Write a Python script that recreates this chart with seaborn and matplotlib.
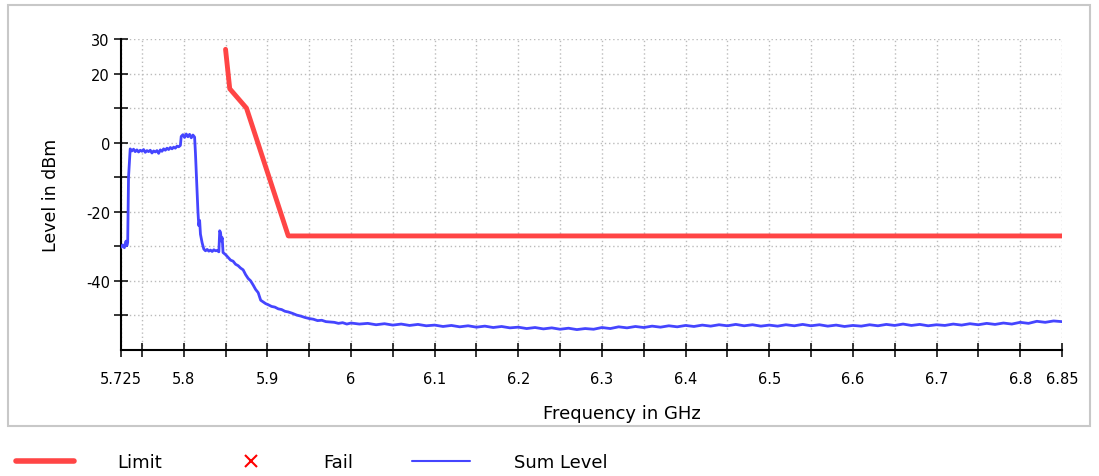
import numpy as np
import pandas as pd
import seaborn as sns
import matplotlib.pyplot as plt
from matplotlib.lines import Line2D
from matplotlib.patches import Rectangle

# ----------------------------
# Data
# ----------------------------
limit_freq = [5.85, 5.855, 5.875, 5.925, 6.85]
limit_level = [27.0, 15.6, 10.0, -27.0, -27.0]

sum_freq = [
    5.725, 5.727, 5.729, 5.731, 5.732, 5.733, 5.734, 5.736, 5.738, 5.740,
    5.742, 5.744, 5.746, 5.748, 5.750, 5.752, 5.754, 5.756, 5.758, 5.760,
    5.762, 5.764, 5.766, 5.768, 5.770, 5.772, 5.774, 5.776, 5.778, 5.780,
    5.782, 5.784, 5.786, 5.788, 5.790, 5.792, 5.794, 5.796, 5.797, 5.799,
    5.801, 5.803, 5.805, 5.807, 5.809, 5.811, 5.813, 5.814, 5.816, 5.817,
    5.818, 5.819, 5.820, 5.822, 5.824, 5.826, 5.828, 5.830, 5.832, 5.834,
    5.836, 5.838, 5.840, 5.842, 5.843, 5.844, 5.845, 5.846, 5.847, 5.850,
    5.853, 5.856, 5.859, 5.862, 5.865, 5.868, 5.871, 5.874, 5.877, 5.880,
    5.883, 5.886, 5.889, 5.892, 5.895, 5.898, 5.901, 5.905, 5.909, 5.913,
    5.917, 5.921, 5.925, 5.930, 5.935, 5.940, 5.945, 5.950, 5.955, 5.960,
    5.965, 5.970, 5.975, 5.980, 5.985, 5.990, 5.995, 6.000,
    6.01, 6.02, 6.03, 6.04, 6.05, 6.06, 6.07, 6.08, 6.09, 6.10,
    6.11, 6.12, 6.13, 6.14, 6.15, 6.16, 6.17, 6.18, 6.19, 6.20,
    6.21, 6.22, 6.23, 6.24, 6.25, 6.26, 6.27, 6.28, 6.29, 6.30,
    6.31, 6.32, 6.33, 6.34, 6.35, 6.36, 6.37, 6.38, 6.39, 6.40,
    6.41, 6.42, 6.43, 6.44, 6.45, 6.46, 6.47, 6.48, 6.49, 6.50,
    6.51, 6.52, 6.53, 6.54, 6.55, 6.56, 6.57, 6.58, 6.59, 6.60,
    6.61, 6.62, 6.63, 6.64, 6.65, 6.66, 6.67, 6.68, 6.69, 6.70,
    6.71, 6.72, 6.73, 6.74, 6.75, 6.76, 6.77, 6.78, 6.79, 6.80,
    6.81, 6.82, 6.83, 6.84, 6.85,
]
sum_level = [
    -30.3, -29.6, -30.4, -28.5, -29.8, -28.9, -10.0, -1.8, -2.4, -1.9,
    -2.6, -2.1, -2.7, -2.2, -2.5, -2.0, -2.8, -2.3, -2.6, -2.2,
    -3.0, -2.4, -2.7, -2.3, -3.1, -2.1, -2.5, -1.8, -2.2, -1.6,
    -2.0, -1.4, -1.8, -1.3, -1.6, -1.0, -1.2, -0.8, 1.8, 2.3,
    1.5, 2.5, 1.7, 2.4, 1.4, 2.2, 1.6, -3.0, -14.0, -20.0,
    -24.0, -22.5, -26.5, -29.0, -30.8, -31.3, -30.9, -31.4, -31.1, -31.5,
    -31.0, -31.3, -31.2, -31.6, -25.5, -26.0, -28.5, -27.5, -31.8, -32.4,
    -33.2, -34.0, -34.3, -35.2, -35.6, -36.3, -36.8, -38.2, -39.3, -40.0,
    -41.2, -42.5, -43.4, -45.6, -46.1, -46.6, -46.9, -47.4, -47.6, -48.1,
    -48.3, -48.8, -49.0, -49.4, -49.9, -50.2, -50.6, -50.9, -51.1, -51.5,
    -51.4, -51.8, -51.9, -52.0, -52.3, -52.1, -52.5, -52.2,
    -52.5, -52.3, -52.7, -52.4, -52.8, -52.5, -52.9, -52.6, -53.0, -52.8,
    -53.2, -52.9, -53.3, -53.0, -53.4, -53.1, -53.5, -53.2, -53.6, -53.4,
    -53.8, -53.5, -53.9, -53.6, -54.0, -53.7, -54.1, -53.8, -54.0, -53.5,
    -53.8, -53.3, -53.6, -53.2, -53.5, -53.1, -53.4, -53.0, -53.3, -52.9,
    -53.2, -52.8, -53.1, -52.7, -53.0, -52.6, -53.0, -52.7, -53.1, -52.8,
    -53.1, -52.7, -53.0, -52.6, -53.0, -52.7, -53.1, -52.8, -53.2, -52.9,
    -53.1, -52.7, -53.0, -52.6, -52.9, -52.5, -52.9, -52.6, -53.0, -52.7,
    -52.9, -52.5, -52.8, -52.4, -52.7, -52.3, -52.6, -52.2, -52.5, -52.0,
    -52.3, -51.7, -52.0, -51.6, -51.8,
]

x_ticks = [5.725, 5.75, 5.8, 5.85, 5.9, 5.95, 6.0, 6.05, 6.1, 6.15, 6.2, 6.25,
           6.3, 6.35, 6.4, 6.45, 6.5, 6.55, 6.6, 6.65, 6.7, 6.75, 6.8, 6.85]
x_labels = ["5.725", "", "5.8", "", "5.9", "", "6", "", "6.1", "", "6.2", "",
            "6.3", "", "6.4", "", "6.5", "", "6.6", "", "6.7", "", "6.8", "6.85"]
y_ticks = [30, 20, 10, 0, -10, -20, -30, -40, -50]
y_labels = ["30", "20", "", "0", "", "-20", "", "-40", ""]

limit_df = pd.DataFrame({"freq": limit_freq, "level": limit_level})
sum_df = pd.DataFrame({"freq": sum_freq, "level": sum_level})

# ----------------------------
# Plot
# ----------------------------
sns.set_style("white")
plt.rcParams["font.family"] = ["DejaVu Sans"]
plt.rcParams["text.color"] = "black"
plt.rcParams["axes.labelcolor"] = "black"

red = "#ff4545"
blue = "#4545ff"

fig = plt.figure(figsize=(10.99, 4.77), dpi=100)
ax = fig.add_axes([0.1101, 0.2642, 0.8562, 0.6520])

sns.lineplot(data=limit_df, x="freq", y="level", color=red, lw=3.5,
             sort=False, estimator=None, ax=ax, zorder=3)
sns.lineplot(data=sum_df, x="freq", y="level", color=blue, lw=2.0,
             sort=False, estimator=None, ax=ax, zorder=3)

ax.set_xlim(5.725, 6.85)
ax.set_ylim(-60, 30)
ax.set_xticks(x_ticks)
ax.set_xticklabels(x_labels)
ax.set_yticks(y_ticks)
ax.set_yticklabels(y_labels)

ax.grid(True, color="#bbbbbb", linestyle=(0, (1, 2)), lw=1)
for side in ["top", "right"]:
    ax.spines[side].set_visible(False)
for side in ["left", "bottom"]:
    ax.spines[side].set_color("black")
    ax.spines[side].set_linewidth(1.5)
ax.tick_params(bottom=True, left=True, direction="inout", length=10,
               width=1.1, colors="black", labelsize=10.5)
ax.tick_params(axis="x", pad=10)
ax.tick_params(axis="y", pad=3)

ax.set_xlabel("Frequency in GHz", fontsize=13)
ax.set_ylabel("Level in dBm", fontsize=12.5)
ax.xaxis.set_label_coords(0.532, -0.175)
ax.yaxis.set_label_coords(-0.065, 0.5)

# outer frame
fig.patches.append(Rectangle((8 / 1099, 1 - 427 / 477), 1082 / 1099, 421 / 477,
                             transform=fig.transFigure, fill=False,
                             edgecolor="#c8c8c8", lw=1.5))

# legend
handles = [
    Line2D([], [], color=red, lw=4),
    Line2D([], [], color="red", marker="x", ls="none", markersize=9, mew=1.5),
    Line2D([], [], color=blue, lw=1.5),
]
fig.legend(handles, ["Limit", "Fail", "Sum Level"], loc="center left",
           bbox_to_anchor=(0.0, 1 - 463 / 477), ncol=3, frameon=False,
           fontsize=13, handlelength=3.2, handletextpad=2.4, columnspacing=3.3)

fig.savefig("out.png", dpi=100)
plt.close()
